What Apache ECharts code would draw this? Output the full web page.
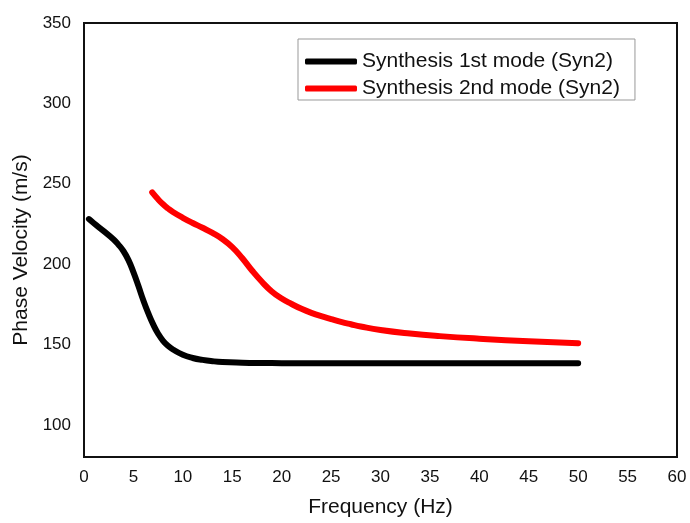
<!DOCTYPE html>
<html><head><meta charset="utf-8">
<script src="https://cdn.jsdelivr.net/npm/echarts@6/dist/echarts.min.js"></script>
<style>html,body{margin:0;padding:0;background:#fff}#c{width:690px;height:523px}</style>
</head><body><div id="c"></div>
<script>
const seriesNames = ['Synthesis 1st mode (Syn2)', 'Synthesis 2nd mode (Syn2)'];
const mode1X = [0.5, 1, 2, 3, 3.5, 4, 4.5, 5, 5.5, 6, 6.5, 7, 7.5, 8, 8.5, 9, 10, 11, 12, 13, 14, 16, 18, 20, 25, 30, 35, 40, 45, 50];
const mode1Y = [228, 225.4, 220.5, 215.3, 212, 208, 202.5, 195, 186.5, 177.5, 169.5, 162.5, 156.7, 152.3, 149.2, 146.9, 143.6, 141.6, 140.4, 139.6, 139.1, 138.7, 138.5, 138.4, 138.3, 138.3, 138.3, 138.3, 138.3, 138.3];
const mode2X = [6.9, 7.5, 8, 8.5, 9, 10, 11, 12, 13, 14, 15, 16, 17, 18, 19, 20, 21, 22, 23, 24, 25, 26, 27, 28, 30, 33, 36, 40, 45, 50];
const mode2Y = [244.6, 240.3, 237.2, 234.6, 232.4, 228.8, 225.6, 222.6, 219.4, 215.6, 210.6, 203.8, 196, 189, 183, 178.6, 175.2, 172.2, 169.7, 167.6, 165.8, 164.1, 162.6, 161.2, 159, 156.8, 155.2, 153.6, 152, 150.8];
const xTicks = [0, 5, 10, 15, 20, 25, 30, 35, 40, 45, 50, 55, 60];
const yTicks = [100, 150, 200, 250, 300, 350];

const font = 'Liberation Sans, Arial, sans-serif';
const chart = echarts.init(document.getElementById('c'));
chart.setOption({
  animation: false,
  grid: { left: 84, right: 13, top: 23, bottom: 65, show: true, borderColor: '#111', borderWidth: 2, backgroundColor: 'transparent' },
  legend: {
    orient: 'vertical', left: 298, top: 39,
    data: seriesNames,
    borderColor: '#999', borderWidth: 1, padding: [12, 15, 1, 7],
    itemWidth: 52, itemHeight: 6, itemGap: 6,
    icon: 'roundRect',
    textStyle: { fontFamily: font, fontSize: 21, lineHeight: 21, color: '#111' }
  },
  xAxis: {
    type: 'value', min: 0, max: 60, interval: 5,
    name: 'Frequency (Hz)', nameLocation: 'middle', nameGap: 40,
    nameTextStyle: { fontFamily: font, fontSize: 21, color: '#111' },
    axisLine: { show: false }, axisTick: { show: false }, splitLine: { show: false },
    axisLabel: { customValues: xTicks, fontFamily: font, fontSize: 17, color: '#111', margin: 12 }
  },
  yAxis: {
    type: 'value', min: 80, max: 350,
    name: 'Phase Velocity (m/s)', nameLocation: 'middle', nameGap: 50,
    nameTextStyle: { fontFamily: font, fontSize: 21, color: '#111', padding: [0, 20, 0, 0] },
    axisLine: { show: false }, axisTick: { show: false }, splitLine: { show: false },
    axisLabel: { customValues: yTicks, fontFamily: font, fontSize: 17, color: '#111', margin: 13 }
  },
  series: [
    { name: seriesNames[0], type: 'line', smooth: 0.5, showSymbol: false,
      lineStyle: { color: '#000', width: 6, cap: 'round', join: 'round' }, itemStyle: { color: '#000' },
      data: mode1X.map((x, i) => [x, mode1Y[i]]) },
    { name: seriesNames[1], type: 'line', smooth: 0.5, showSymbol: false,
      lineStyle: { color: '#f00', width: 6, cap: 'round', join: 'round' }, itemStyle: { color: '#f00' },
      data: mode2X.map((x, i) => [x, mode2Y[i]]) }
  ]
});
</script></body></html>
